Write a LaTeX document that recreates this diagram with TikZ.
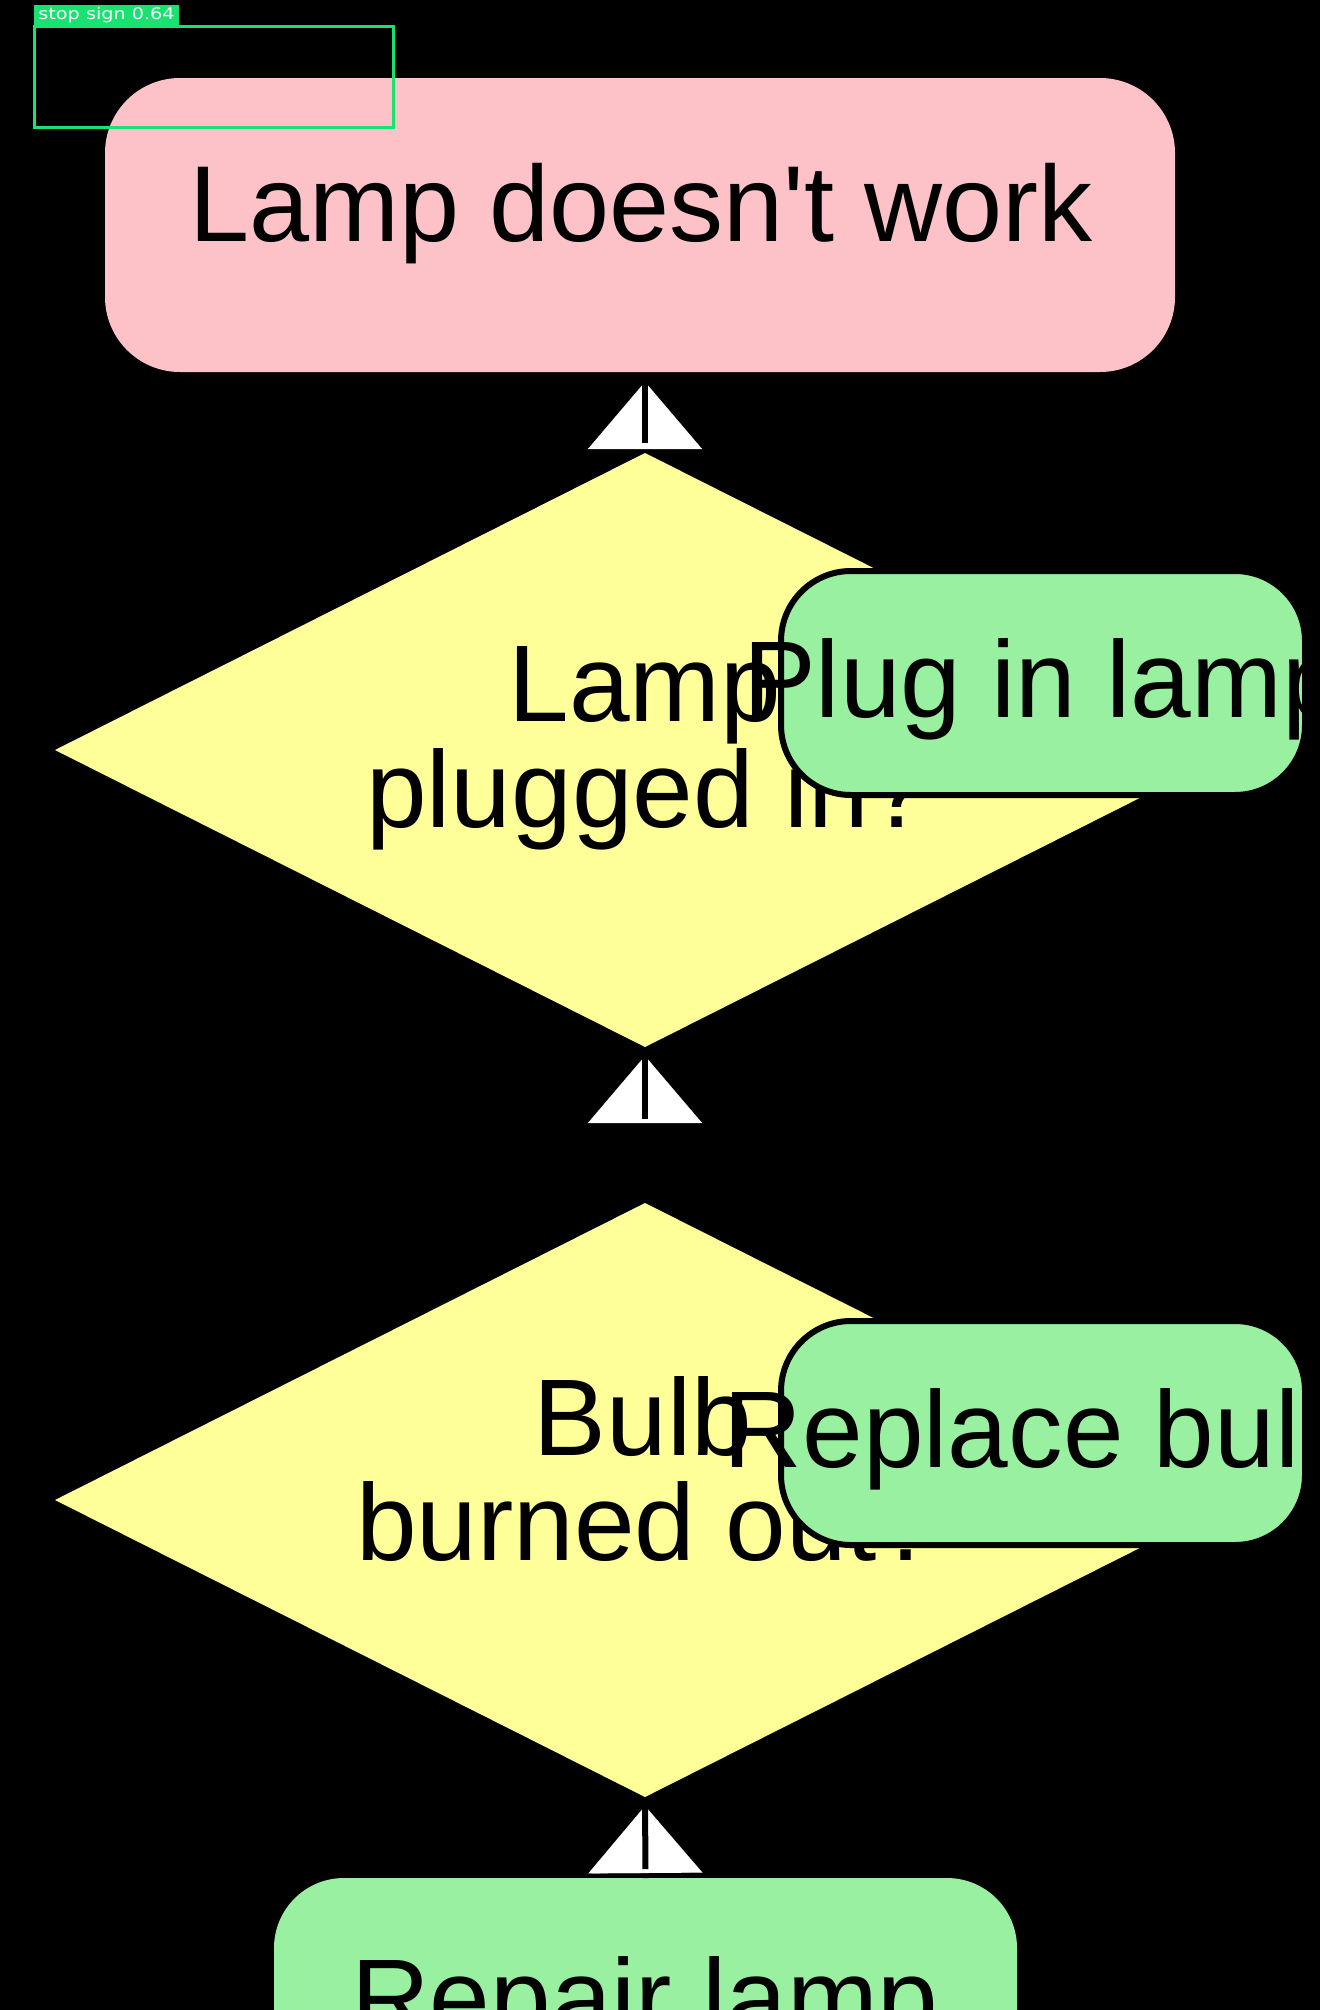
\documentclass[tikz,border=0pt]{standalone}
\usepackage{fontspec}
\newfontfamily\arial{Liberation Sans}
\newfontfamily\tagfont{DejaVu Sans}[FakeStretch=1.2]
\usetikzlibrary{shapes.geometric,arrows.meta}
\definecolor{boxpink}{RGB}{252,194,199}
\definecolor{qyellow}{RGB}{255,255,153}
\definecolor{actgreen}{RGB}{152,240,160}
\definecolor{detgreen}{RGB}{24,226,112}
\begin{document}
\begin{tikzpicture}[x=1pt,y=-1pt,
  big/.style={font=\arial\fontsize{109}{106}\selectfont, inner sep=0pt, outer sep=0pt, text=black},
  startbox/.style={rectangle, rounded corners=75pt, fill=boxpink, draw=none, inner sep=0pt, outer sep=0pt},
  decision/.style={diamond, fill=qyellow, draw=none, inner sep=0pt, outer sep=0pt},
  actbox/.style={rectangle, rounded corners=70pt, fill=actgreen, draw=black, line width=6pt, inner sep=0pt, outer sep=0pt},
  flow/.style={line width=6pt, draw=black, -{Triangle[width=114pt,length=67pt,fill=white,color=white,line width=0.1pt]}},
  stem/.style={line width=6pt, draw=black},
  detbox/.style={draw=detgreen, line width=3pt, inner sep=0pt, outer sep=0pt},
  detlabel/.style={fill=detgreen, text=white, font=\tagfont\fontsize{16}{16}\selectfont, inner sep=0pt, outer sep=0pt}
]
\fill[black] (0,0) rectangle (1320,2010);
\useasboundingbox (0,0) rectangle (1320,2010);
\clip (0,0) rectangle (1320,2010);

% start node
\node[startbox, minimum width=1070pt, minimum height=294pt] (start) at (640,225) {};
\node[big, font=\arial\fontsize{108}{106}\selectfont, anchor=base] (starttxt) at (641,241) {Lamp doesn't work};

% decision 1
\node[decision, minimum width=1180pt, minimum height=594pt] (q1) at (645,750) {};
\node[big, anchor=base] (q1a) at (645,721) {Lamp};
\node[big, anchor=base] (q1b) at (648,827) {plugged in?};

% decision 2
\node[decision, minimum width=1180pt, minimum height=594pt] (q2) at (645,1500) {};
\node[big, anchor=base] (q2a) at (643,1455) {Bulb};
\node[big, anchor=base] (q2b) at (647,1560) {burned out?};

% action boxes
\node[actbox, minimum width=524pt, minimum height=224pt] (plug) at (1043,683) {};
\node[actbox, minimum width=524pt, minimum height=224pt] (repl) at (1043,1433) {};
\begin{scope}
  \clip (0,0) rectangle (1302,2010);
  \node[big, anchor=base] (plugtxt) at (1043,717) {Plug in lamp};
  \node[big, anchor=base] (repltxt) at (1042,1467) {Replace bulb};
\end{scope}

% final box
\node[actbox, draw=none, minimum width=743pt, minimum height=320pt, anchor=north] (repair) at (645.5,1878) {};
\node[big, anchor=base] (repairtxt) at (645,2035) {Repair lamp};

% connectors
\draw[flow, shorten >=10pt] (q1.north) -- (q1.north |- start.south);
\draw[stem, shorten <=10pt, shorten >=10pt] (q1.north) -- (q1.north |- start.south);
\draw[flow, shorten >=9pt] (q2.north) -- (q1.south);
\draw[stem, shorten <=84pt, shorten >=9pt] (q2.north) -- (q1.south);
\draw[flow, shorten >=9pt] (repair.north) -- (q2.south);
\draw[stem, shorten <=9pt, shorten >=9pt] (repair.north) -- (q2.south);

% detection overlay
\node[detbox, minimum width=358.6pt, minimum height=101pt, anchor=north west] (det) at (34.7,26.5) {};
\node[detlabel, minimum width=145pt, minimum height=20pt, anchor=south west] (detlbl) at (34,25) {stop sign 0.64};
\end{tikzpicture}
\end{document}
